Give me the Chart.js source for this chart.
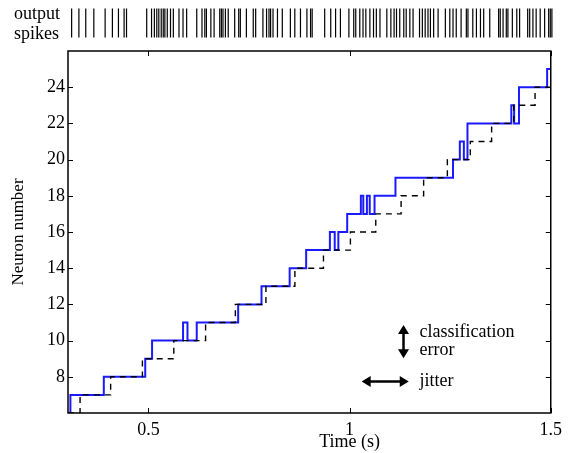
<!DOCTYPE html>
<html>
<head>
<meta charset="utf-8">
<script src="https://cdn.jsdelivr.net/npm/chart.js@4.4.1/dist/chart.umd.min.js"></script>
<style>
  body { margin: 0; background: #fff; }
  #wrap { position: relative; width: 568px; height: 453px; }
  canvas { position: absolute; left: 0; top: 0; }
</style>
</head>
<body>
<div id="wrap">
  <canvas id="mainChart" width="568" height="453"></canvas>
  <canvas id="spikeChart" width="568" height="46"></canvas>
</div>
<script>
// decoded neuron (blue) : time of each change and new value
const decodedT = [0.300, 0.306, 0.389, 0.492, 0.509, 0.586, 0.597, 0.620, 0.723, 0.781,
                  0.851, 0.892, 0.951, 0.963, 0.972, 0.994, 1.028, 1.034, 1.043, 1.050,
                  1.062, 1.114, 1.257, 1.274, 1.284, 1.293, 1.402, 1.409, 1.421, 1.491];
const decodedN = [6, 7, 8, 9, 10, 11, 10, 11, 12, 13,
                  14, 15, 16, 15, 16, 17, 18, 17, 18, 17,
                  18, 19, 20, 21, 20, 22, 23, 22, 24, 25];

// target neuron (black dashed)
const targetT = [0.300, 0.330, 0.406, 0.485, 0.563, 0.642, 0.716, 0.792, 0.864, 0.935,
                 1.002, 1.065, 1.128, 1.184, 1.243, 1.300, 1.353, 1.408, 1.461];
const targetN = [6, 7, 8, 9, 10, 11, 12, 13, 14, 15,
                 16, 17, 18, 19, 20, 21, 22, 23, 24];

// output spike times (s)
const spikeT = [0.309, 0.327, 0.344, 0.364, 0.392, 0.410, 0.425, 0.439, 0.445,
  0.495, 0.507, 0.514, 0.520, 0.525, 0.531, 0.536, 0.540, 0.546, 0.554, 0.561,
  0.575, 0.585, 0.594, 0.619, 0.632, 0.639, 0.643, 0.654, 0.662, 0.676, 0.680,
  0.684, 0.690, 0.697, 0.713, 0.723, 0.727, 0.742, 0.759, 0.765, 0.783, 0.792,
  0.798, 0.802, 0.808, 0.819, 0.831, 0.851, 0.862, 0.876, 0.892, 0.901, 0.905,
  0.936, 0.951, 0.963, 0.975, 0.996, 1.008, 1.013, 1.023, 1.031, 1.038, 1.048,
  1.057, 1.064, 1.073, 1.090, 1.100, 1.108, 1.114, 1.122, 1.132, 1.138, 1.147,
  1.155, 1.171, 1.178, 1.185, 1.192, 1.198, 1.206, 1.217, 1.235, 1.246, 1.254,
  1.262, 1.274, 1.287, 1.291, 1.303, 1.312, 1.322, 1.330, 1.345, 1.367, 1.371,
  1.378, 1.386, 1.390, 1.401, 1.412, 1.419, 1.439, 1.444, 1.452, 1.460, 1.470,
  1.481, 1.491, 1.495, 1.499];

const xTicks = [0.5, 1, 1.5];
const yTicks = [8, 10, 12, 14, 16, 18, 20, 22, 24];
const xRange = [0.3, 1.5];
const yRange = [6, 26];

const FONT = "'Liberation Serif', 'Times New Roman', serif";

// step series: hold last value to the right edge
function steps(ts, ns) {
  const pts = ts.map((t, i) => ({ x: t, y: ns[i] }));
  pts.push({ x: xRange[1], y: ns[ns.length - 1] });
  return pts;
}

function arrowHead(ctx, x, y, dx, dy) {
  const len = 9, half = 5.5;
  const px = -dy, py = dx;
  ctx.beginPath();
  ctx.moveTo(x, y);
  ctx.lineTo(x - dx * len + px * half, y - dy * len + py * half);
  ctx.lineTo(x - dx * len - px * half, y - dy * len - py * half);
  ctx.closePath();
  ctx.fill();
}

// box, inward ticks on all four sides, x label and the notes
const frameTicks = {
  id: 'frameTicks',
  afterDatasetsDraw(chart) {
    const { ctx, chartArea: a, scales: { x, y } } = chart;
    ctx.save();
    ctx.strokeStyle = '#000';
    ctx.lineWidth = 1;
    ctx.beginPath();
    xTicks.forEach(v => {
      const p = Math.round(x.getPixelForValue(v)) + 0.5;
      ctx.moveTo(p, a.bottom); ctx.lineTo(p, a.bottom - 5);
      ctx.moveTo(p, a.top); ctx.lineTo(p, a.top + 5);
    });
    yTicks.forEach(v => {
      const p = Math.round(y.getPixelForValue(v)) + 0.5;
      ctx.moveTo(a.left, p); ctx.lineTo(a.left + 5, p);
      ctx.moveTo(a.right, p); ctx.lineTo(a.right - 5, p);
    });
    ctx.stroke();
    ctx.lineWidth = 1.5;
    ctx.strokeRect(a.left, a.top, a.right - a.left, a.bottom - a.top);

    ctx.fillStyle = '#000';
    ctx.font = '18px ' + FONT;
    ctx.textAlign = 'center';
    ctx.textBaseline = 'middle';
    ctx.fillText('Time (s)', x.getPixelForValue(1.0), 442);

    // notes
    ctx.lineWidth = 2.5;
    const vx = x.getPixelForValue(1.134);
    const vTop = y.getPixelForValue(10.86), vBot = y.getPixelForValue(9.03);
    ctx.beginPath(); ctx.moveTo(vx, vTop + 6); ctx.lineTo(vx, vBot - 6); ctx.stroke();
    arrowHead(ctx, vx, vTop, 0, -1);
    arrowHead(ctx, vx, vBot, 0, 1);

    const hy = y.getPixelForValue(7.74);
    const hL = x.getPixelForValue(1.030), hR = x.getPixelForValue(1.147);
    ctx.beginPath(); ctx.moveTo(hL + 6, hy); ctx.lineTo(hR - 6, hy); ctx.stroke();
    arrowHead(ctx, hL, hy, -1, 0);
    arrowHead(ctx, hR, hy, 1, 0);

    ctx.font = '18px ' + FONT;
    ctx.textAlign = 'left';
    const tx = x.getPixelForValue(1.174);
    ctx.fillText('classification', tx, y.getPixelForValue(10.45));
    ctx.fillText('error', tx, y.getPixelForValue(9.45));
    ctx.fillText('jitter', tx, hy);
    ctx.restore();
  }
};

new Chart(document.getElementById('mainChart'), {
  type: 'line',
  data: {
    datasets: [
      {
        label: 'target',
        data: steps(targetT, targetN),
        stepped: 'before',
        borderColor: '#000',
        borderWidth: 1.4,
        borderDash: [6, 5],
        pointRadius: 0,
        fill: false
      },
      {
        label: 'decoded',
        data: steps(decodedT, decodedN),
        stepped: 'before',
        borderColor: '#1a1aff',
        borderWidth: 2,
        pointRadius: 0,
        fill: false
      }
    ]
  },
  options: {
    responsive: false,
    animation: false,
    layout: { padding: { top: 51, right: 15, bottom: 0, left: 0 } },
    plugins: { legend: { display: false }, tooltip: { enabled: false } },
    scales: {
      x: {
        type: 'linear',
        min: xRange[0], max: xRange[1],
        afterBuildTicks: s => { s.ticks = xTicks.map(v => ({ value: v })); },
        afterFit: s => { s.height = 40; },
        grid: { display: false, drawTicks: false },
        border: { display: false },
        ticks: {
          padding: 6,
          color: '#000',
          font: { family: FONT, size: 18 },
          maxRotation: 0,
          callback: v => String(v)
        }
      },
      y: {
        type: 'linear',
        min: yRange[0], max: yRange[1],
        afterBuildTicks: s => { s.ticks = yTicks.map(v => ({ value: v })); },
        afterFit: s => { s.width = 68; },
        grid: { display: false, drawTicks: false },
        border: { display: false },
        ticks: {
          padding: 3,
          color: '#000',
          font: { family: FONT, size: 18 }
        },
        title: {
          display: true, text: 'Neuron number', color: '#000',
          font: { family: FONT, size: 17 },
          padding: { top: 8, bottom: 0 }
        }
      }
    }
  },
  plugins: [frameTicks]
});

// spike raster strip on top
const spikeLabel = {
  id: 'spikeLabel',
  afterDraw(chart) {
    const { ctx } = chart;
    ctx.save();
    ctx.fillStyle = '#000';
    ctx.font = '18px ' + FONT;
    ctx.textAlign = 'left';
    ctx.textBaseline = 'alphabetic';
    ctx.fillText('output', 14, 18.5);
    ctx.fillText('spikes', 14, 38.5);
    ctx.restore();
  }
};

new Chart(document.getElementById('spikeChart'), {
  type: 'scatter',
  data: {
    datasets: [{
      data: spikeT.map(t => ({ x: t, y: 0 })),
      pointStyle: 'line',
      rotation: 90,
      pointRadius: 14.5,
      borderColor: '#000',
      borderWidth: 1.2,
      clip: false
    }]
  },
  options: {
    responsive: false,
    animation: false,
    layout: { padding: { top: 0, right: 15, bottom: 0, left: 68 } },
    plugins: { legend: { display: false }, tooltip: { enabled: false } },
    scales: {
      x: { type: 'linear', min: xRange[0], max: xRange[1], display: false },
      y: { min: -1, max: 1, display: false }
    }
  },
  plugins: [spikeLabel]
});
</script>
</body>
</html>
